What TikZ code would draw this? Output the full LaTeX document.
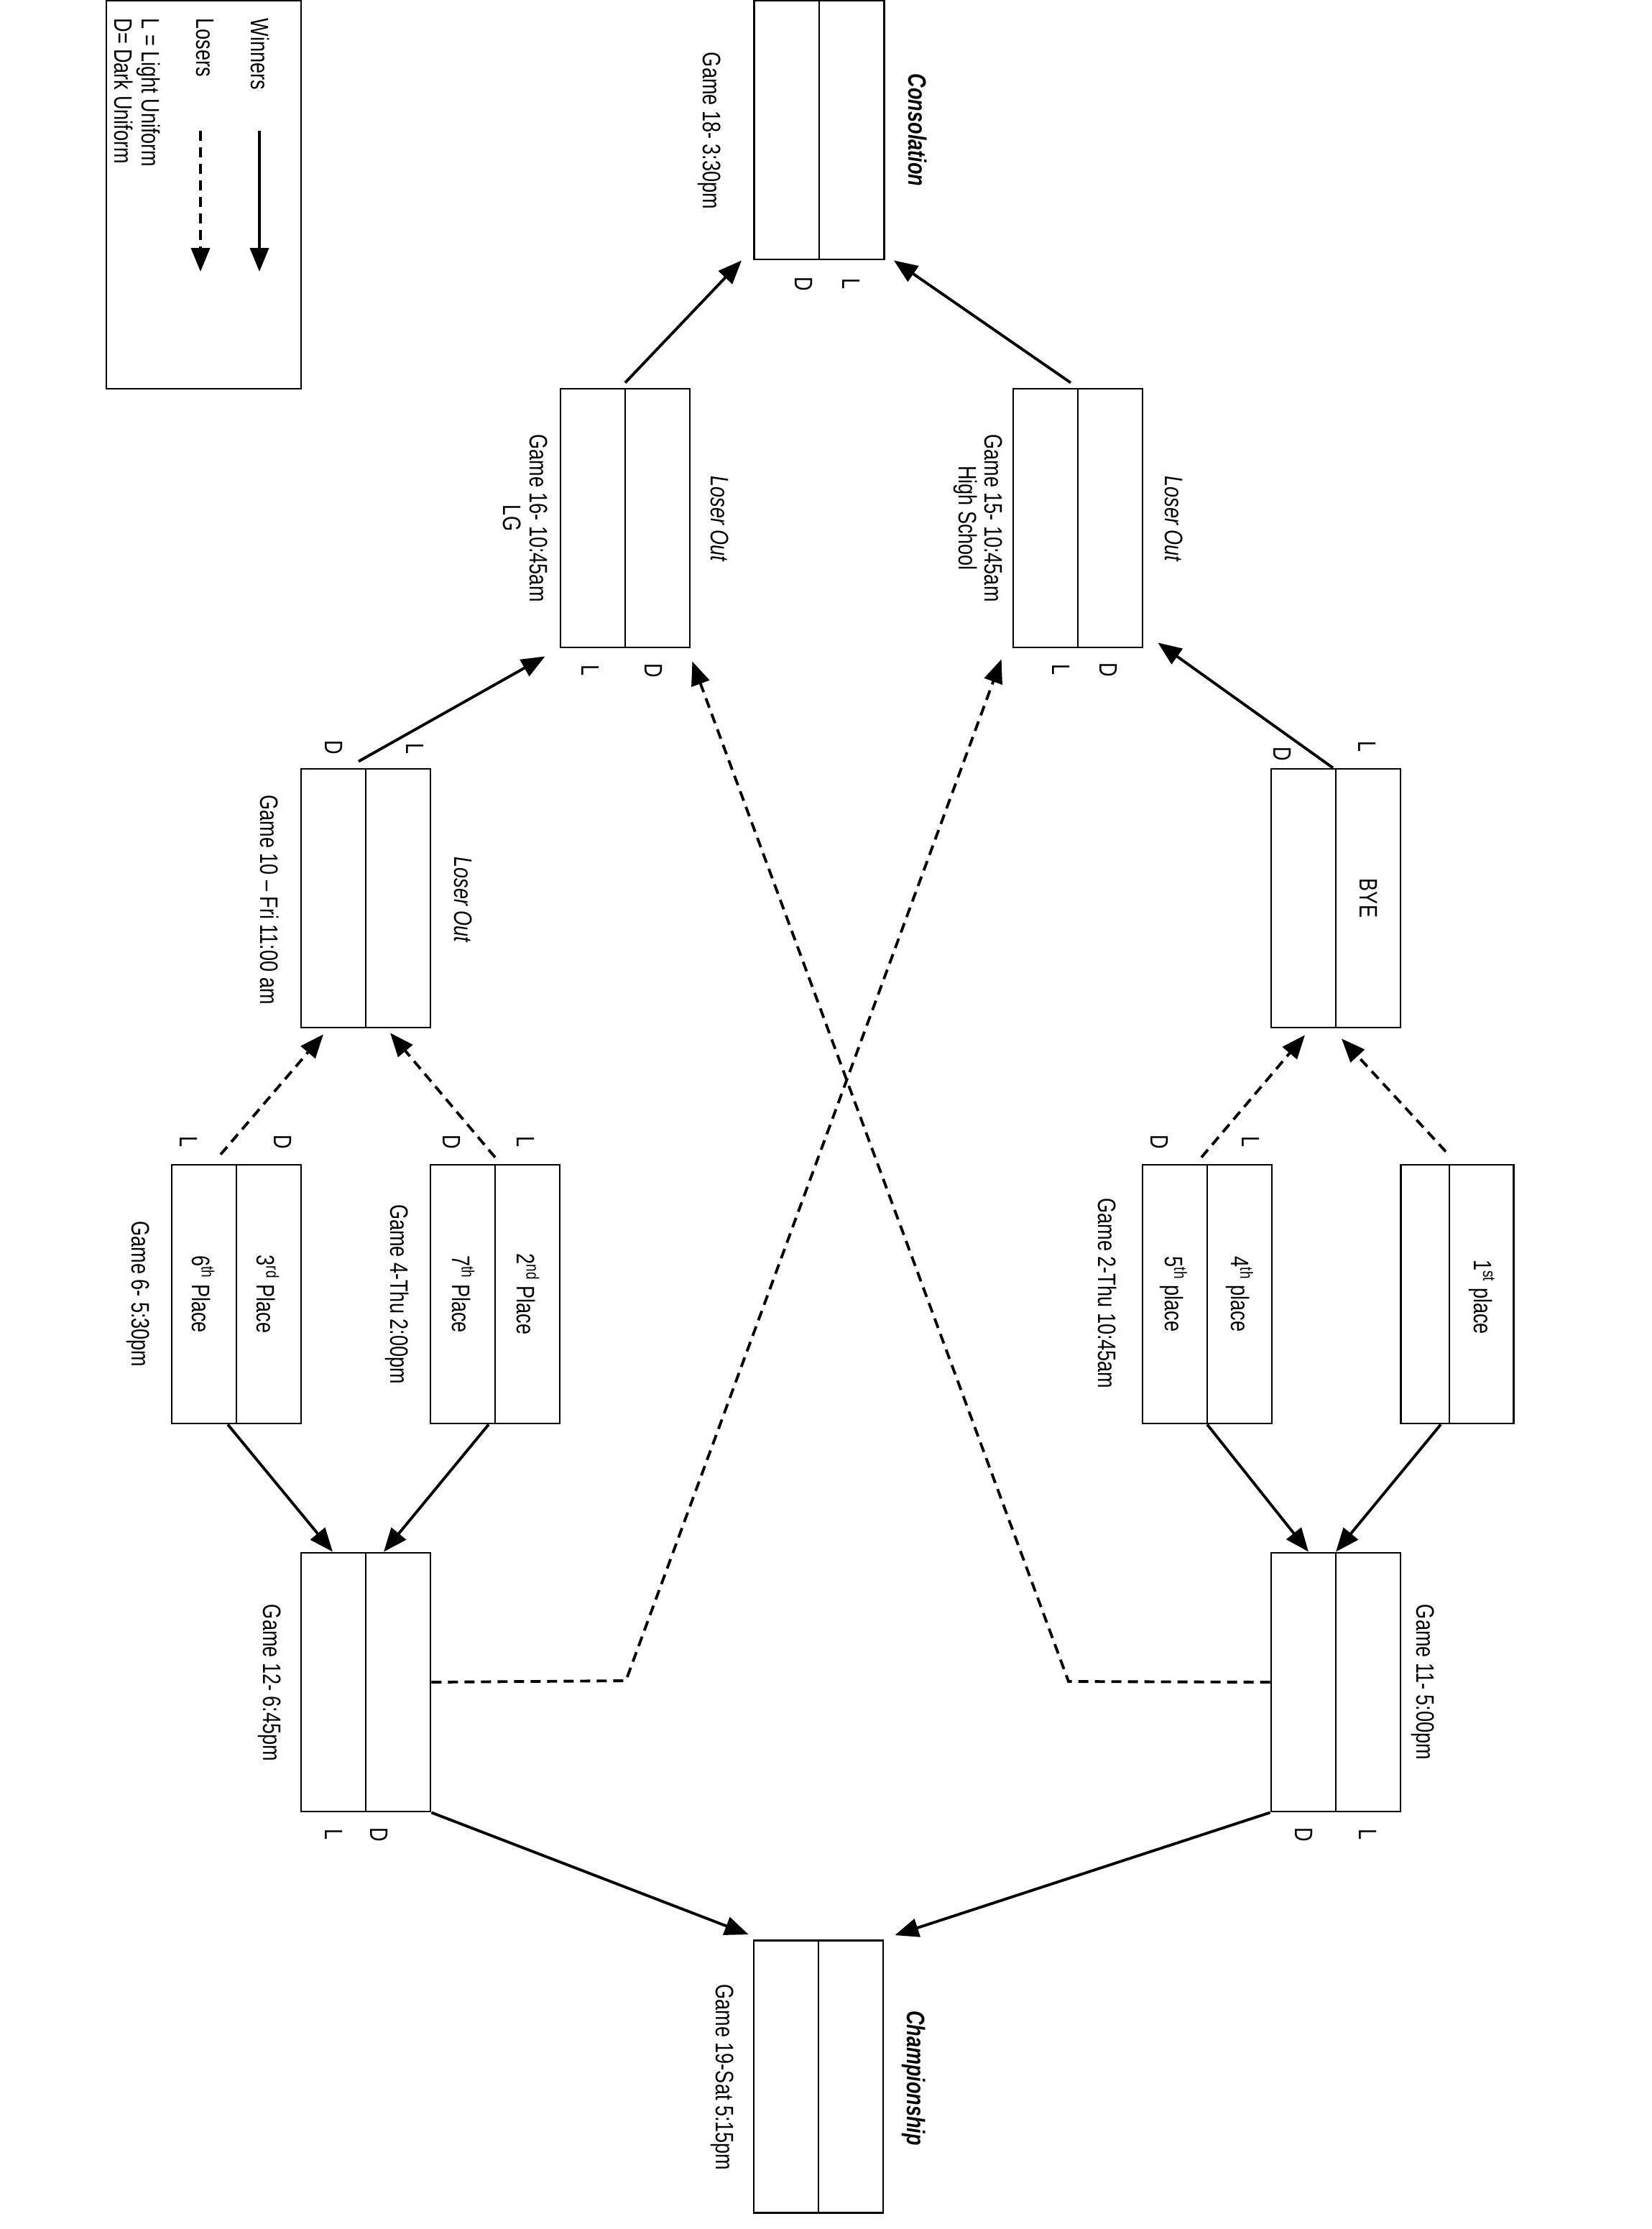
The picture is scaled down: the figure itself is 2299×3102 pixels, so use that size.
\documentclass[tikz,border=0pt]{standalone}
\usepackage{fontspec}
\setmainfont{Liberation Sans}
\usetikzlibrary{arrows.meta,positioning,calc}

\begin{document}
\begin{tikzpicture}[
        x=0.1mm, y=-0.1mm,
        game/.style={rectangle, draw, line width=0.8pt, inner sep=0pt,
            minimum width=18mm, minimum height=36mm},
        txt/.style={rotate=-90, xscale=0.77, inner sep=0pt, align=center,
            font=\fontsize{10}{10.3}\selectfont},
        ttl/.style={txt, font=\fontsize{10}{10.3}\selectfont\bfseries\itshape},
        lout/.style={txt, font=\fontsize{10}{10.3}\selectfont\itshape},
        win/.style={-{Triangle[length=3.3mm,width=2.6mm]}, line width=1.1pt},
        lose/.style={win, dash pattern=on 1.4mm off 0.9mm}
    ]
        \useasboundingbox (0,0) rectangle (2299,3102);

        % legend
        \node[draw, line width=0.8pt, minimum width=27.1mm, minimum height=54mm] (legend) at (283.5,271) {};
        \node[txt, anchor=west] (wintxt) at (362,25) {Winners};
        \node[txt, anchor=west] (lostxt) at (285,25) {Losers};
        \node[txt, anchor=west, align=left, font=\fontsize{10}{10.8}\selectfont] (uniform) at (191,25) {L = Light Uniform\\D= Dark Uniform};
        \coordinate (winA) at (361,182);
        \coordinate (winB) at (361,378);
        \coordinate (losA) at (279,182);
        \coordinate (losB) at (279,378);
        \draw[win] (winA) -- (winB);
        \draw[lose] (losA) -- (losB);

        % game boxes
        \node[game, minimum width=18.1mm] (cons) at (1140,181) {};
        \node[game] (g15) at (1500,721) {};
        \node[game] (g16) at (870,721) {};
        \node[game] (bye) at (1859,1250) {};
        \node[game] (g10) at (509,1250) {};
        \node[game, minimum width=15.7mm] (first) at (2028,1801) {};
        \node[game] (g2) at (1680,1801) {};
        \node[game] (g4) at (689,1801) {};
        \node[game] (g6) at (329,1801) {};
        \node[game] (g11) at (1859,2341) {};
        \node[game] (g12) at (509,2341) {};
        \node[game, minimum height=37.9mm] (champ) at (1139,2890) {};

        \foreach \g in {cons,g15,g16,bye,g10,g2,g4,g6,g11,g12,champ}
            \draw[line width=0.8pt] (\g.north) -- (\g.south);
        \draw[line width=0.8pt] ([xshift=-1.1mm]first.north) -- ([xshift=-1.1mm]first.south);

        % consolation
        \node[ttl] (consT) at (1277,181) {Consolation};
        \node[txt] (consG) at (987,182) {Game 18- 3:30pm};
        \node[txt] (consL) at (1185,395) {L};
        \node[txt] (consD) at (1119,395) {D};

        % loser out games
        \node[lout] (g15T) at (1634,722) {Loser Out};
        \node[txt] (g15G) at (1361,721) {Game 15- 10:45am\\High School};
        \node[txt] (g15L) at (1477,932) {L};
        \node[txt] (g15D) at (1543,932) {D};

        \node[lout] (g16T) at (1002,722) {Loser Out};
        \node[txt] (g16G) at (731,721) {Game 16- 10:45am\\LG};
        \node[txt] (g16L) at (822,933) {L};
        \node[txt] (g16D) at (910,933) {D};

        \node[txt] (byeT) at (1905,1250) {BYE};
        \node[txt] (byeL) at (1903,1039) {L};
        \node[txt] (byeD) at (1785,1049) {D};

        \node[lout] (g10T) at (645,1252) {Loser Out};
        \node[txt] (g10G) at (375,1252) {Game 10 -- Fri 11:00 am};
        \node[txt] (g10D) at (465,1040) {D};
        \node[txt] (g10L) at (578,1042) {L};

        % first round
        \node[txt] (firstT) at (2062,1805) {1\textsuperscript{st} place};

        \node[txt] (g2a) at (1725,1801) {4\textsuperscript{th} place};
        \node[txt] (g2b) at (1633,1801) {5\textsuperscript{th} place};
        \node[txt] (g2G) at (1541,1800) {Game 2-Thu 10:45am};
        \node[txt] (g2L) at (1741,1589) {L};
        \node[txt] (g2D) at (1614,1589) {D};

        \node[txt] (g4a) at (735,1801) {2\textsuperscript{nd} Place};
        \node[txt] (g4b) at (645,1801) {7\textsuperscript{th} Place};
        \node[txt] (g4G) at (553,1801) {Game 4-Thu 2:00pm};
        \node[txt] (g4L) at (732,1589) {L};
        \node[txt] (g4D) at (629,1589) {D};

        \node[txt] (g6a) at (373,1801) {3\textsuperscript{rd} Place};
        \node[txt] (g6b) at (283,1801) {6\textsuperscript{th} Place};
        \node[txt] (g6G) at (192,1801) {Game 6- 5:30pm};
        \node[txt] (g6D) at (394,1589) {D};
        \node[txt] (g6L) at (263,1589) {L};

        % semis and final
        \node[txt] (g11G) at (1980,2341) {Game 11- 5:00pm};
        \node[txt] (g11L) at (1904,2553) {L};
        \node[txt] (g11D) at (1815,2553) {D};

        \node[txt] (g12G) at (375,2342) {Game 12- 6:45pm};
        \node[txt] (g12L) at (465,2553) {L};
        \node[txt] (g12D) at (528,2553) {D};

        \node[ttl] (champT) at (1272,2892) {Championship};
        \node[txt] (champG) at (1005,2891) {Game 19-Sat 5:15pm};

        % winners
        \draw[win] ([xshift=-2.3mm]first.south) -- (g11.north);
        \draw[win] (g2.south) -- ([xshift=-3.8mm]g11.north);
        \draw[win] ([xshift=-0.9mm]g4.south) -- ([xshift=2.5mm]g12.north);
        \draw[win] ([xshift=-1.2mm]g6.south) -- ([xshift=-4.6mm]g12.north);
        \draw[win] (g11.south west) -- ([xshift=1.5mm,yshift=0.6mm]champ.north east);
        \draw[win] (g12.south east) -- ([xshift=-0.6mm,yshift=0.7mm]champ.north west);
        \draw[win] ([xshift=-0.4mm]bye.north) -- ([xshift=2mm,yshift=0.8mm]g15.south east);
        \draw[win] ([xshift=-1mm,yshift=0.9mm]g10.north) -- ([xshift=-2mm,yshift=-1.1mm]g16.south west);
        \draw[win] ([xshift=-1mm,yshift=0.7mm]g15.north) -- ([xshift=1.2mm]cons.south east);
        \draw[win] ([yshift=0.7mm]g16.north) -- ([xshift=-1.6mm]cons.south west);

        % losers
        \draw[lose] ([xshift=-1.6mm,yshift=1.7mm]first.north) -- ([xshift=0.8mm,yshift=-1.4mm]bye.south);
        \draw[lose] ([xshift=-0.8mm,yshift=0.9mm]g2.north) -- ([xshift=-4.3mm,yshift=-0.9mm]bye.south);
        \draw[lose] ([yshift=0.9mm]g4.north) -- ([xshift=3.4mm,yshift=-0.6mm]g10.south);
        \draw[lose] ([xshift=-2.2mm,yshift=1.3mm]g6.north) -- ([xshift=-5.9mm,yshift=-0.8mm]g10.south);
        \coordinate (bend11) at (1487,2340);
        \coordinate (bend12) at (871,2339);
        \draw[lose] (g11.west) -- (bend11) -- ([xshift=0.2mm,yshift=-1.8mm]g16.south east);
        \draw[lose] (g12.east) -- (bend12) -- ([xshift=-1.5mm,yshift=-1.5mm]g15.south west);
    \end{tikzpicture}
\end{document}
